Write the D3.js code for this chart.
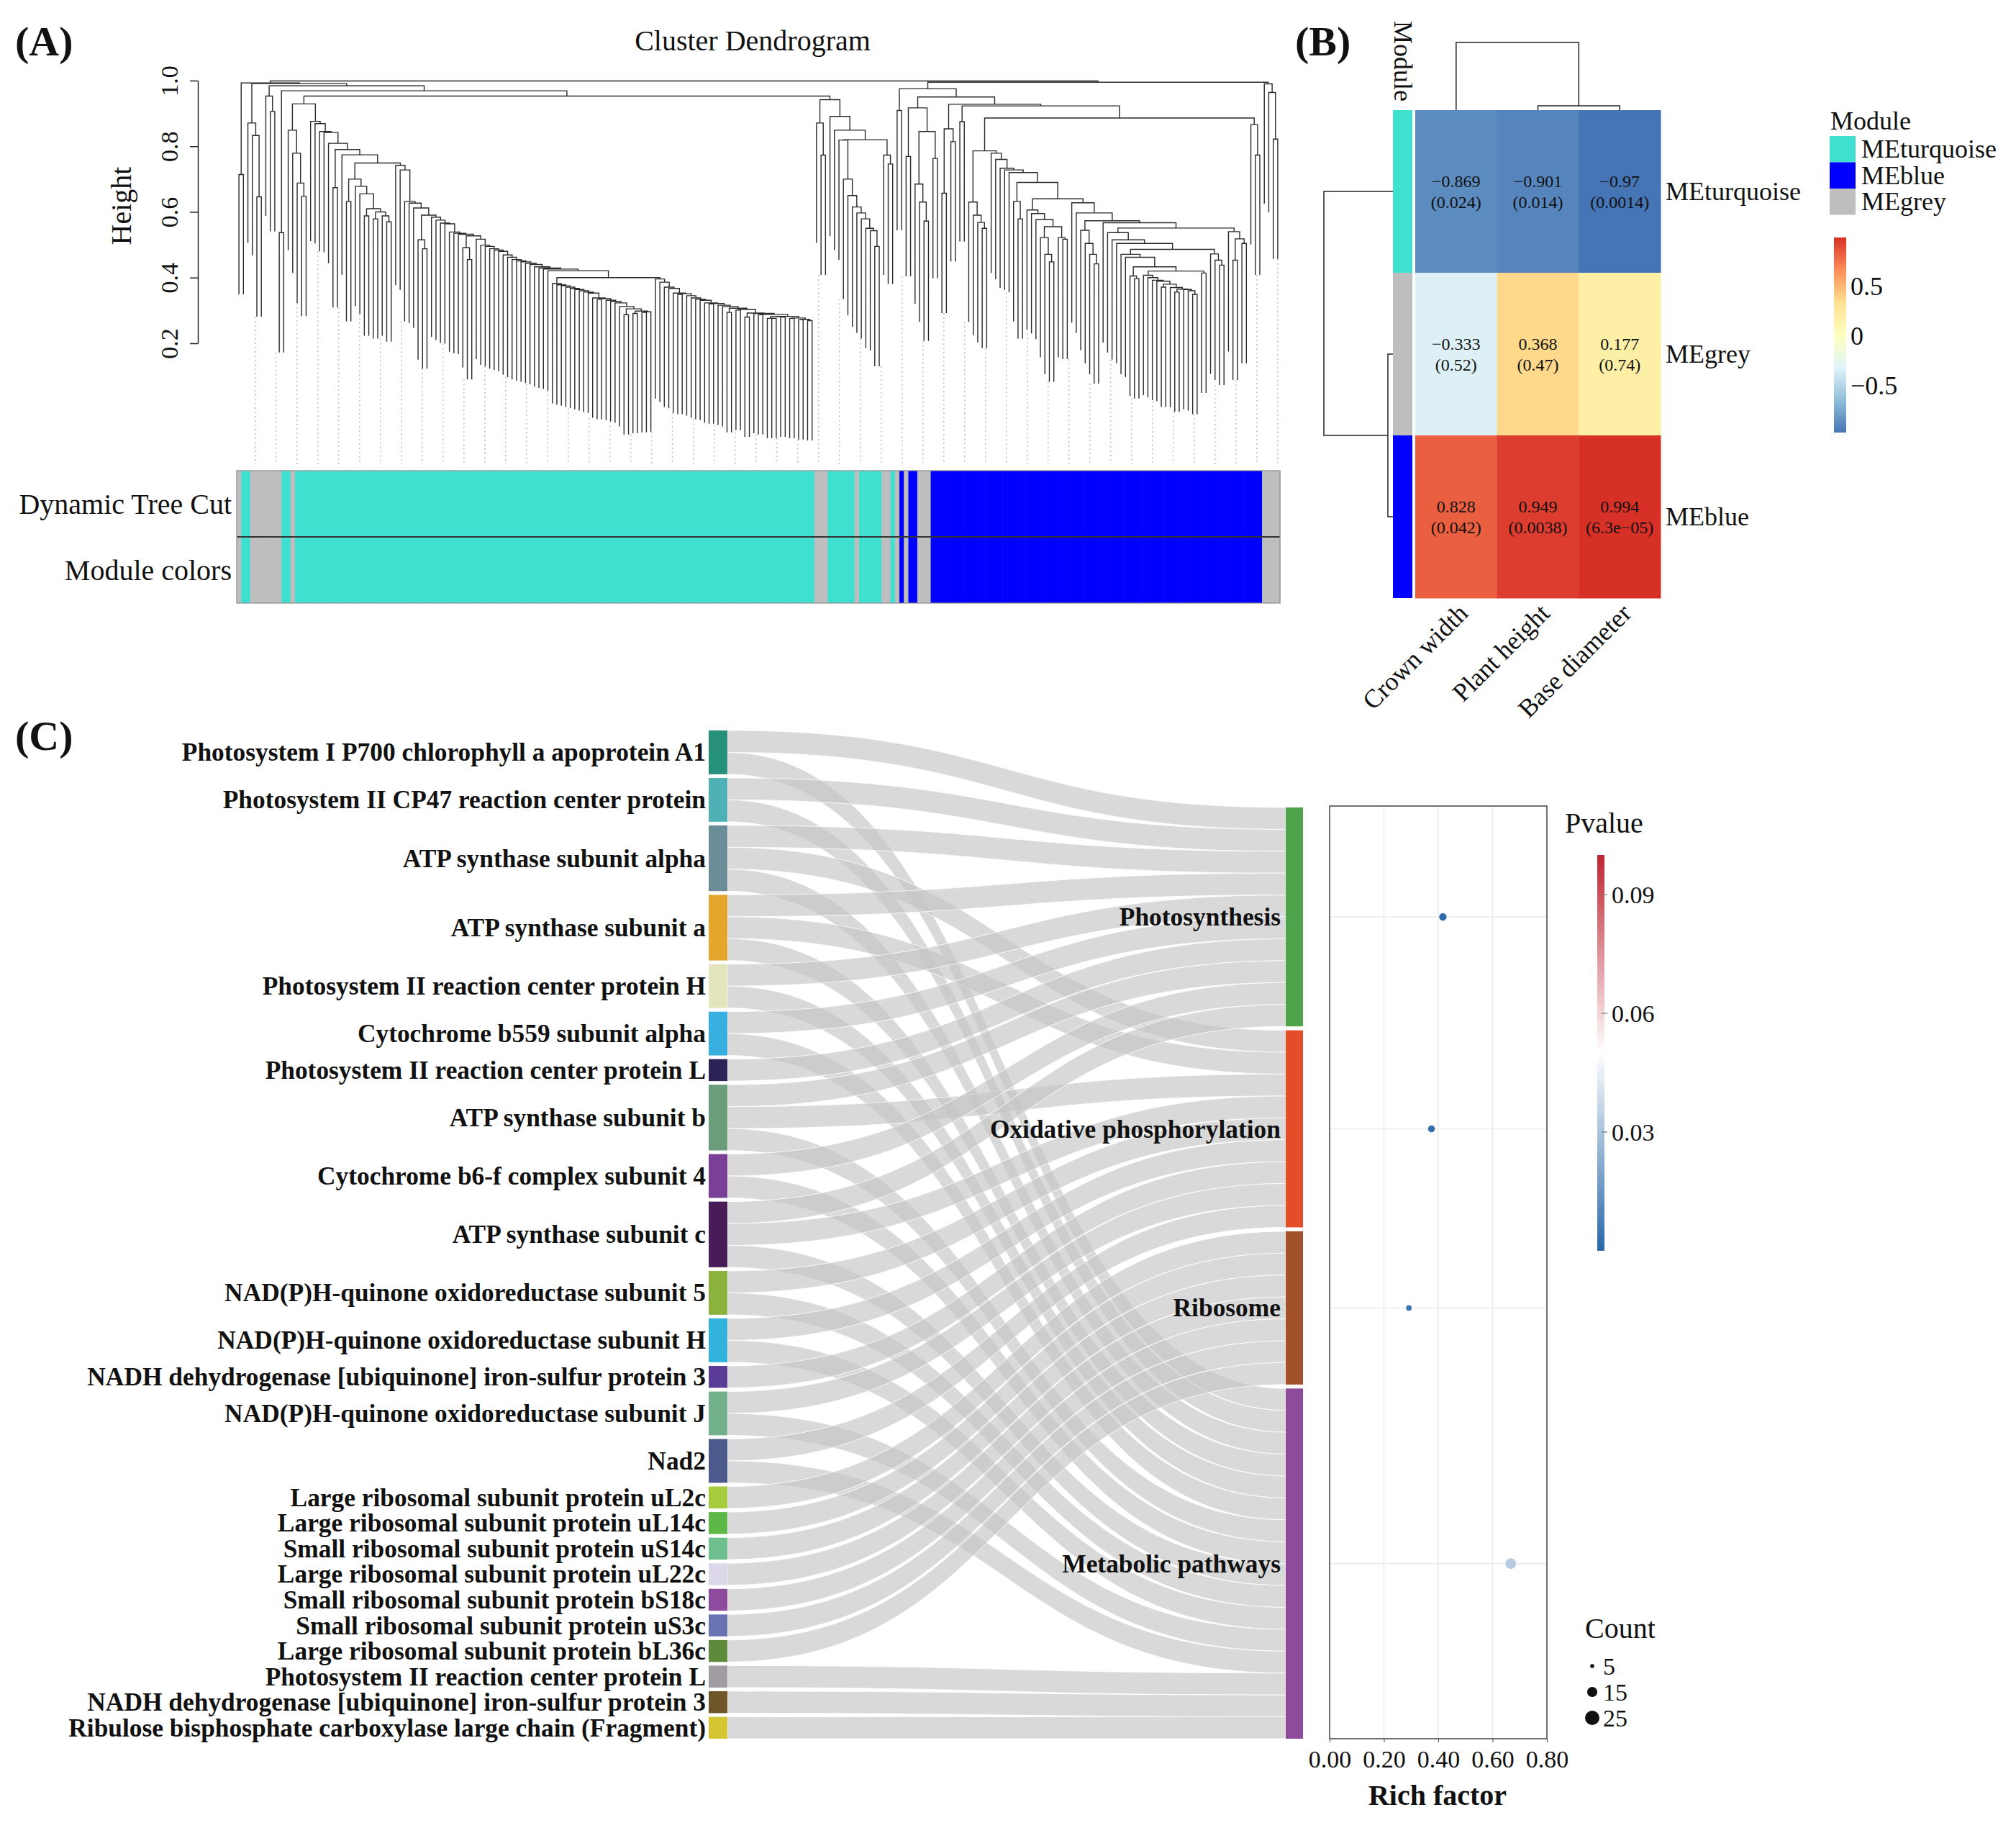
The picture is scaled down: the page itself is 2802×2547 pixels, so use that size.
<!DOCTYPE html>
<html>
<head>
<meta charset="utf-8">
<script src="https://cdn.jsdelivr.net/npm/d3@7"></script>
<style>
  body { margin: 0; background: #fff; }
  svg text { font-family: "Liberation Serif", "Times New Roman", Times, serif; fill: #111; }
</style>
</head>
<body>
<svg id="fig" width="2802" height="2547"></svg>
<script>
// ---------------- data ----------------

// (A) gene dendrogram: merge height between each pair of neighbouring leaves (leaf order as drawn)
var mergeHeights = [
  .714, .993, .871, .833, .646, .991, .953, .906, .984, .537, .969, .849, .779, .688, .648, .929,
  .876, .869, .845, .842, .809, .674, .79, .774, .632, .70,
  .678, .655, .588, .61, .579, .60, .588, .570, .749, .742,
  .728, .632, .627, .612, .515, .488, .59, .584, .575, .566,
  .564, .539, .535, .532, .491, .455, .527, .517, .499, .495,
  .488, .484, .480, .469, .462, .455, .451, .448, .444, .440,
  .433, .429, .426, .421,
  .382, .378, .375, .371, .367, .364, .360, .356, .353, .338,
  .334, .336, .331, .327, .323, .312, .287, .305, .291, .298,
  .294, .296, .40,
  .396, .386, .371, .367, .353, .349, .351, .345, .338, .334,
  .331, .323, .320, .321, .316, .312, .294, .307, .301, .303,
  .280, .292, .291, .287, .288, .276, .276, .281, .280, .282,
  .276, .277, .272, .273, .269,
  .953,
  .871, .773, .942, .891, .849, .819, .70, .65, .615, .597, .579, .55, .543, .495, .82, .773, .746,
  .999,
  .909, .975, .769, .917, .685, .63, .572, .845, .763, .95,
  .657, .853, .814, .928, .875, .923, .63, .59, .568, .55,
  .786, .779, .76, .733, .728, .72, .632, .579, .69, .606,
  .595, .577, .522, .471, .448, .555, .522, .517, .64, .628,
  .597, .544, .504, .471, .442, .573, .567, .537, .515, .504,
  .471, .462, .405, .397, .433, .407, .40, .392, .389, .371,
  .38, .37, .356, .365, .364, .36, .349, .42, .414, .486,
  .472, .453, .438, .551, .54, .453, .518, .504, .886, .866,
  .773, .995, .99, .964, .822
];
// module colour runs under the tree (same for both rows)
var moduleRunColors = ["grey", "turquoise", "grey", "turquoise", "grey", "turquoise", "grey", "turquoise",
  "grey", "turquoise", "grey", "turquoise", "grey", "blue", "grey", "blue", "grey", "blue", "grey"];
var moduleRunLengths = [1, 2, 7, 2, 1, 116, 3, 6, 1, 5, 2, 1, 1, 1, 1, 2, 3, 74, 4];
var colorRowLabels = ["Dynamic Tree Cut", "Module colors"];
var heightTicks = [0.2, 0.4, 0.6, 0.8, 1.0];

// (B) module-trait heatmap
var traits = ["Crown width", "Plant height", "Base diameter"];
var modules = ["MEturquoise", "MEgrey", "MEblue"];
var moduleKeyColors = ["turquoise", "grey", "blue"];
var corValues = [[-0.869, -0.901, -0.97], [-0.333, 0.368, 0.177], [0.828, 0.949, 0.994]];
var corP = [[0.024, 0.014, 0.0014], [0.52, 0.47, 0.74], [0.042, 0.0038, 6.3e-5]];
var legendModules = ["MEturquoise", "MEblue", "MEgrey"];
var legendModuleColors = ["turquoise", "blue", "grey"];
var corTicks = [-0.5, 0, 0.5];
var colTreeHeights = [0.065, 1];   // (Plant height, Base diameter), then + Crown width
var rowTreeHeights = [0.073, 1];   // (MEgrey, MEblue), then + MEturquoise

// (C) protein -> pathway sankey and enrichment
var proteins = [
  "Photosystem I P700 chlorophyll a apoprotein A1",
  "Photosystem II CP47 reaction center protein",
  "ATP synthase subunit alpha",
  "ATP synthase subunit a",
  "Photosystem II reaction center protein H",
  "Cytochrome b559 subunit alpha",
  "Photosystem II reaction center protein L",
  "ATP synthase subunit b",
  "Cytochrome b6-f complex subunit 4",
  "ATP synthase subunit c",
  "NAD(P)H-quinone oxidoreductase subunit 5",
  "NAD(P)H-quinone oxidoreductase subunit H",
  "NADH dehydrogenase [ubiquinone] iron-sulfur protein 3",
  "NAD(P)H-quinone oxidoreductase subunit J",
  "Nad2",
  "Large ribosomal subunit protein uL2c",
  "Large ribosomal subunit protein uL14c",
  "Small ribosomal subunit protein uS14c",
  "Large ribosomal subunit protein uL22c",
  "Small ribosomal subunit protein bS18c",
  "Small ribosomal subunit protein uS3c",
  "Large ribosomal subunit protein bL36c",
  "Photosystem II reaction center protein L",
  "NADH dehydrogenase [ubiquinone] iron-sulfur protein 3",
  "Ribulose bisphosphate carboxylase large chain (Fragment)"
];
var proteinColors = ["#27907b", "#4fb0b6", "#6b8d97", "#e4a62d", "#e3e6bc", "#37afe1", "#2c2459",
  "#6a9e7a", "#7a3f97", "#4a1c57", "#8ab23d", "#31b3de", "#5b3c97", "#72b18b", "#4c598d",
  "#a6cc3e", "#5db848", "#6dc08e", "#ddd7ea", "#8e4a9c", "#6a73b1", "#5e8b3b", "#a19ba2",
  "#6e5629", "#d5c532"];
var pathways = ["Photosynthesis", "Oxidative phosphorylation", "Ribosome", "Metabolic pathways"];
var pathwayColors = ["#4fa34a", "#e54d29", "#a3512a", "#8e4a9b"];
var proteinPathways = [[0, 3], [0, 3], [0, 1, 3], [0, 1, 3], [0, 3], [0, 3], [0], [0, 1, 3], [0, 3],
  [0, 1, 3], [1, 3], [1, 3], [1], [1, 3], [1, 3], [2], [2], [2], [2], [2], [2], [2], [3], [3], [3]];
var richFactor = [0.417, 0.375, 0.292, 0.667];
var geneCount = [10, 9, 7, 16];
var pValue = [0.0009, 0.0021, 0.0043, 0.033];
var richTicks = [0, 0.2, 0.4, 0.6, 0.8];
var pTicks = [0.03, 0.06, 0.09];
var countTicks = [5, 15, 25];

// ---------------- drawing ----------------
var svg = d3.select("#fig");
svg.append("rect").attr("width", 2802).attr("height", 2547).attr("fill", "#fff");

var RCOL = { turquoise: "#40e0d0", grey: "#bebebe", blue: "#0000ff" };

function label(g, x, y, txt, size, opts) {
  opts = opts || {};
  return g.append("text").attr("x", x).attr("y", y).text(txt)
    .attr("font-size", size)
    .attr("font-weight", opts.bold ? "bold" : null)
    .attr("text-anchor", opts.anchor || "start")
    .attr("dominant-baseline", opts.base || null);
}

// ===== (A) cluster dendrogram =====
var gA = svg.append("g");
label(gA, 21, 77, "(A)", 58, { bold: true });
label(gA, 1046, 70, "Cluster Dendrogram", 40, { anchor: "middle" });

var N = mergeHeights.length + 1;
var hang = 0.365;
var xBand = d3.scaleBand().domain(d3.range(N)).range([329, 1779]);
var bw = xBand.bandwidth();
var xLeaf = function (i) { return xBand(i) + bw / 2; };
var yH = d3.scaleLinear().domain([0.2, 1.0]).range([477, 112]);

function buildTree(lo, hi) {
  if (lo === hi) return { leaf: true, i: lo, x: xLeaf(lo) };
  var k = lo;
  for (var j = lo; j < hi; j++) if (mergeHeights[j] > mergeHeights[k]) k = j;
  var l = buildTree(lo, k), r = buildTree(k + 1, hi);
  return { h: mergeHeights[k], left: l, right: r, x: (l.x + r.x) / 2 };
}
var tree = buildTree(0, N - 1);

var parentH = new Array(N);
var treePath = [];
(function walk(n) {
  if (n.leaf) return;
  [n.left, n.right].forEach(function (c) { if (c.leaf) parentH[c.i] = n.h; else walk(c); });
  var yl = n.left.leaf ? yH(n.h - hang) : yH(n.left.h);
  var yr = n.right.leaf ? yH(n.h - hang) : yH(n.right.h);
  treePath.push("M" + n.left.x + "," + yl + "V" + yH(n.h) + "H" + n.right.x + "V" + yr);
})(tree);

// guide lines (every N/50 leaves)
var guideBottom = 645;
d3.range(1, 51).forEach(function (k) {
  var p = k * N / 50 - 1;
  var a = Math.floor(p), b = Math.min(Math.ceil(p), N - 1);
  var top = Math.min(parentH[a], parentH[b]) - hang;
  var x = xLeaf(a) + (p - a) * bw;
  gA.append("line").attr("x1", x).attr("x2", x).attr("y1", yH(top)).attr("y2", guideBottom)
    .attr("stroke", "#9a9a9a").attr("stroke-width", 1).attr("stroke-dasharray", "2,4");
});

gA.append("path").attr("d", treePath.join("")).attr("fill", "none")
  .attr("stroke", "#2a2a2a").attr("stroke-width", 1.4);

var axA = gA.append("g").attr("transform", "translate(275,0)")
  .call(d3.axisLeft(yH).tickValues(heightTicks).tickFormat(d3.format(".1f")).tickSize(11).tickSizeOuter(0));
axA.select(".domain").attr("stroke", "#222").attr("stroke-width", 1.5);
axA.selectAll(".tick line").attr("stroke", "#222").attr("stroke-width", 1.5);
axA.selectAll(".tick text").attr("transform", "rotate(-90)").attr("x", 0).attr("y", -28).attr("dy", 0)
  .attr("text-anchor", "middle").attr("font-size", 34).attr("font-family", null).attr("fill", "#111");
gA.append("text").attr("transform", "translate(182,286) rotate(-90)").attr("text-anchor", "middle")
  .attr("font-size", 40).text("Height");

// colour bars
var leafColors = [];
moduleRunColors.forEach(function (c, k) { for (var m = 0; m < moduleRunLengths[k]; m++) leafColors.push(c); });
var barRows = d3.scaleBand().domain(colorRowLabels).range([654, 838]);
colorRowLabels.forEach(function (rowName) {
  var y0 = barRows(rowName);
  gA.selectAll(null).data(leafColors).enter().append("rect")
    .attr("x", function (d, i) { return xBand(i); }).attr("y", y0)
    .attr("width", bw + 0.6).attr("height", barRows.bandwidth())
    .attr("fill", function (d) { return RCOL[d]; });
  label(gA, 322, y0 + barRows.bandwidth() / 2, rowName, 40, { anchor: "end", base: "central" });
});
gA.append("line").attr("x1", 329).attr("x2", 1779).attr("y1", 746).attr("y2", 746)
  .attr("stroke", "#333").attr("stroke-width", 2);
gA.append("rect").attr("x", 329).attr("y", 654).attr("width", 1450).attr("height", 184)
  .attr("fill", "none").attr("stroke", "#8a8a8a").attr("stroke-width", 1.2);

// ===== (B) module-trait heatmap =====
var gB = svg.append("g");
label(gB, 1800, 77, "(B)", 58, { bold: true });
var hx = d3.scaleBand().domain(traits).range([1967, 2308]);
var hy = d3.scaleBand().domain(modules).range([153, 831]);
var allCor = d3.merge(corValues);
var cMin = d3.min(allCor), cMax = d3.max(allCor);
var palette = ["#4575B4", "#91BFDB", "#E0F3F8", "#FFFFBF", "#FEE090", "#FC8D59", "#D73027"];
var heat = d3.scaleLinear().domain(palette.map(function (d, k) { return cMin + k * (cMax - cMin) / 6; })).range(palette);
var fmtNum = function (v) { return String(v).replace("-", "\u2212"); };
var fmtP = function (v) { return v < 1e-4 ? v.toExponential(1).replace("e-", "e\u22120") : String(v); };

modules.forEach(function (m, r) {
  traits.forEach(function (t, c) {
    gB.append("rect").attr("x", hx(t)).attr("y", hy(m)).attr("width", hx.bandwidth() + 0.5)
      .attr("height", hy.bandwidth() + 0.5).attr("fill", heat(corValues[r][c]));
    var cx = hx(t) + hx.bandwidth() / 2, cy = hy(m) + hy.bandwidth() / 2;
    label(gB, cx, cy - 14, fmtNum(corValues[r][c]), 24, { anchor: "middle", base: "central" });
    label(gB, cx, cy + 15, "(" + fmtP(corP[r][c]) + ")", 24, { anchor: "middle", base: "central" });
  });
  gB.append("rect").attr("x", 1936).attr("y", hy(m)).attr("width", 27).attr("height", hy.bandwidth())
    .attr("fill", RCOL[moduleKeyColors[r]]);
  label(gB, 2315, hy(m) + hy.bandwidth() / 2, m, 36, { base: "central" });
});
gB.append("text").attr("transform", "translate(1950,29) rotate(90)").attr("font-size", 36)
  .attr("dominant-baseline", "central").text("Module");
traits.forEach(function (t) {
  gB.append("text").attr("transform", "translate(" + (hx(t) + hx.bandwidth() / 2 - 2) + ",834) rotate(-45)")
    .attr("text-anchor", "end").attr("dy", "0.8em").attr("font-size", 36).text(t);
});

// column dendrogram
var cty = d3.scaleLinear().domain([0, 1]).range([153, 59]);
var cxC = function (t) { return hx(t) + hx.bandwidth() / 2; };
var subX = (cxC(traits[1]) + cxC(traits[2])) / 2;
gB.append("path").attr("fill", "none").attr("stroke", "#222").attr("stroke-width", 1.5)
  .attr("d", "M" + cxC(traits[1]) + "," + cty(0) + "V" + cty(colTreeHeights[0]) + "H" + cxC(traits[2]) + "V" + cty(0) +
    "M" + cxC(traits[0]) + "," + cty(0) + "V" + cty(colTreeHeights[1]) + "H" + subX + "V" + cty(colTreeHeights[0]));
// row dendrogram
var rtx = d3.scaleLinear().domain([0, 1]).range([1936, 1840]);
var ryC = function (m) { return hy(m) + hy.bandwidth() / 2; };
var subY = (ryC(modules[1]) + ryC(modules[2])) / 2;
gB.append("path").attr("fill", "none").attr("stroke", "#222").attr("stroke-width", 1.5)
  .attr("d", "M" + rtx(0) + "," + ryC(modules[1]) + "H" + rtx(rowTreeHeights[0]) + "V" + ryC(modules[2]) + "H" + rtx(0) +
    "M" + rtx(0) + "," + ryC(modules[0]) + "H" + rtx(rowTreeHeights[1]) + "V" + subY + "H" + rtx(rowTreeHeights[0]));

// legends
label(gB, 2544, 180, "Module", 36);
legendModules.forEach(function (m, k) {
  gB.append("rect").attr("x", 2543).attr("y", 189 + k * 36.5).attr("width", 36).attr("height", 36.5)
    .attr("fill", RCOL[legendModuleColors[k]]);
  label(gB, 2587, 189 + k * 36.5 + 18, m, 36, { base: "central" });
});
var defs = svg.append("defs");
var gradB = defs.append("linearGradient").attr("id", "gradB").attr("x1", 0).attr("y1", 1).attr("x2", 0).attr("y2", 0);
palette.forEach(function (c, k) { gradB.append("stop").attr("offset", k / 6).attr("stop-color", c); });
gB.append("rect").attr("x", 2549).attr("y", 330).attr("width", 17).attr("height", 271).attr("fill", "url(#gradB)");
var legY = d3.scaleLinear().domain([cMin, cMax]).range([601, 330]);
corTicks.forEach(function (v) {
  label(gB, 2572, legY(v), fmtNum(v), 36, { base: "central" });
});

// ===== (C) sankey =====
var gC = svg.append("g");
label(gC, 21, 1042, "(C)", 58, { bold: true });
var leftTop = 1015, rightTop = 1122, sankeyBottom = 2416, rightGap = 5.5;
var leftX0 = 985, leftX1 = 1011, rightX0 = 1787, rightX1 = 1811;
var leftUnits = proteinPathways.map(function (a) { return a.length; });
var total = d3.sum(leftUnits);
var rightMembers = pathways.map(function (p, k) {
  return d3.range(proteins.length).filter(function (i) { return proteinPathways[i].indexOf(k) >= 0; });
});
var unit = (sankeyBottom - rightTop - (pathways.length - 1) * rightGap) / total;
var leftGap = (sankeyBottom - leftTop - total * unit) / (proteins.length - 1);
var uScale = d3.scaleLinear().domain([0, total]).range([0, total * unit]);

var leftY = [], acc = leftTop;
leftUnits.forEach(function (u) { leftY.push(acc); acc += uScale(u) + leftGap; });
var rightY = [];
acc = rightTop;
rightMembers.forEach(function (mem) { rightY.push(acc); acc += uScale(mem.length) + rightGap; });

var gLinks = gC.append("g");
var xm = (leftX1 + rightX0) / 2;
proteinPathways.forEach(function (list, i) {
  list.forEach(function (p, k) {
    var y0 = leftY[i] + uScale(k), y0b = y0 + uScale(1);
    var y1 = rightY[p] + uScale(rightMembers[p].indexOf(i)), y1b = y1 + uScale(1);
    gLinks.append("path")
      .attr("d", "M" + leftX1 + "," + y0 + "C" + xm + "," + y0 + " " + xm + "," + y1 + " " + rightX0 + "," + y1 +
        "L" + rightX0 + "," + y1b + "C" + xm + "," + y1b + " " + xm + "," + y0b + " " + leftX1 + "," + y0b + "Z")
      .attr("fill", "#c6c6c6").attr("fill-opacity", 0.66)
      .attr("stroke", "#fff").attr("stroke-width", 1).attr("stroke-opacity", 0.8);
  });
});
proteins.forEach(function (name, i) {
  gC.append("rect").attr("x", leftX0).attr("y", leftY[i]).attr("width", leftX1 - leftX0)
    .attr("height", uScale(leftUnits[i])).attr("fill", proteinColors[i]);
  label(gC, 981, leftY[i] + uScale(leftUnits[i]) / 2, name, 35.4, { bold: true, anchor: "end", base: "central" });
});
pathways.forEach(function (name, k) {
  gC.append("rect").attr("x", rightX0).attr("y", rightY[k]).attr("width", rightX1 - rightX0)
    .attr("height", uScale(rightMembers[k].length)).attr("fill", pathwayColors[k]);
  label(gC, 1780, rightY[k] + uScale(rightMembers[k].length) / 2, name, 35.4, { bold: true, anchor: "end", base: "central" });
});

// ===== (C) enrichment dot plot =====
var gD = svg.append("g");
var px = d3.scaleLinear().domain([0, 0.8]).range([1848, 2150]);
var boxTop = 1120, boxBottom = 2416;
var pyC = pathways.map(function (p, k) { return rightY[k] + uScale(rightMembers[k].length) / 2; });
var pCol = d3.scaleLinear().domain([0, 0.05, 0.1]).range(["#2a68a8", "#ffffff", "#bb2633"]);
var rSize = d3.scaleSqrt().domain([5, 25]).range([2.8, 10]);

richTicks.slice(1, -1).forEach(function (v) {
  gD.append("line").attr("x1", px(v)).attr("x2", px(v)).attr("y1", boxTop).attr("y2", boxBottom)
    .attr("stroke", "#ebebeb").attr("stroke-width", 1.5);
});
pyC.forEach(function (y) {
  gD.append("line").attr("x1", px(0)).attr("x2", px(0.8)).attr("y1", y).attr("y2", y)
    .attr("stroke", "#ebebeb").attr("stroke-width", 1.5);
});
gD.selectAll(null).data(pathways).enter().append("circle")
  .attr("cx", function (d, k) { return px(richFactor[k]); })
  .attr("cy", function (d, k) { return pyC[k]; })
  .attr("r", function (d, k) { return rSize(geneCount[k]); })
  .attr("fill", function (d, k) { return pCol(pValue[k]); });
gD.append("rect").attr("x", px(0)).attr("y", boxTop).attr("width", px(0.8) - px(0)).attr("height", boxBottom - boxTop)
  .attr("fill", "none").attr("stroke", "#4d4d4d").attr("stroke-width", 1.6);
var axD = gD.append("g").attr("transform", "translate(0," + boxBottom + ")")
  .call(d3.axisBottom(px).tickValues(richTicks).tickFormat(d3.format(".2f")).tickSize(5).tickSizeOuter(0));
axD.select(".domain").remove();
axD.selectAll(".tick line").attr("stroke", "#4d4d4d");
axD.selectAll(".tick text").attr("font-size", 34).attr("font-family", null).attr("fill", "#222").attr("dy", "0.95em");
label(gD, 1998, 2508, "Rich factor", 40, { bold: true, anchor: "middle" });

// p-value colourbar
label(gD, 2175, 1157, "Pvalue", 40);
var gradP = defs.append("linearGradient").attr("id", "gradP").attr("x1", 0).attr("y1", 1).attr("x2", 0).attr("y2", 0);
[0, 0.5, 1].forEach(function (o) { gradP.append("stop").attr("offset", o).attr("stop-color", pCol(o * 0.1)); });
var pLeg = d3.scaleLinear().domain([0, 0.1]).range([1738, 1188]);
gD.append("rect").attr("x", 2220).attr("y", 1188).attr("width", 10).attr("height", 550).attr("fill", "url(#gradP)");
pTicks.forEach(function (v) {
  gD.append("line").attr("x1", 2226).attr("x2", 2234).attr("y1", pLeg(v)).attr("y2", pLeg(v))
    .attr("stroke", "#777").attr("stroke-width", 1.2);
  label(gD, 2240, pLeg(v), v.toFixed(2), 34, { base: "central" });
});

// count legend
label(gD, 2203, 2276, "Count", 40);
countTicks.forEach(function (c, k) {
  var y = 2315 + k * 36;
  gD.append("circle").attr("cx", 2213).attr("cy", y).attr("r", rSize(c)).attr("fill", "#111");
  label(gD, 2228, y, String(c), 34, { base: "central" });
});
</script>
</body>
</html>
